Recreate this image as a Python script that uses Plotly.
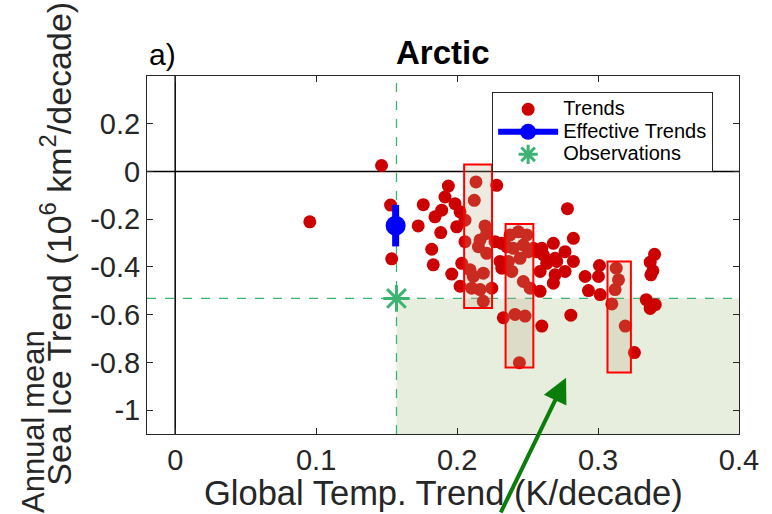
import plotly.graph_objects as go

# ---------------- data ----------------
trend_x = [0.0955, 0.1464, 0.1528, 0.1536,
           0.1938, 0.2134, 0.2281, 0.1914, 0.2122, 0.1760, 0.1985, 0.1891, 0.1843, 0.2021,
           0.2056, 0.1724, 0.1997, 0.2198, 0.1884, 0.2210, 0.2056, 0.2163, 0.2151, 0.1820,
           0.2269, 0.2317, 0.2210, 0.1831, 0.2033, 0.2092, 0.1962, 0.2186, 0.2115, 0.2305,
           0.2021, 0.2104, 0.2163, 0.2246, 0.2186,
           0.2376, 0.2435, 0.2494, 0.2399, 0.2470, 0.2364, 0.2447, 0.2506, 0.2388, 0.2565,
           0.2601, 0.2683, 0.2695, 0.2589, 0.2683, 0.2518, 0.2411, 0.2482, 0.2328, 0.2317,
           0.2442, 0.2601, 0.2589, 0.2470, 0.2352, 0.2541, 0.2612,
           0.2783, 0.2825, 0.2766, 0.2825, 0.2707, 0.2636, 0.2695, 0.2766, 0.2908, 0.3010,
           0.3003, 0.2932, 0.3015, 0.2807,
           0.3129, 0.3145, 0.3121, 0.3098, 0.3193, 0.3258,
           0.3401, 0.3370, 0.3389, 0.3375, 0.3342, 0.3406, 0.3370]
trend_y = [-0.211, 0.025, -0.141, -0.366,
           -0.061, -0.044, -0.058, -0.107, -0.121, -0.139, -0.135, -0.162, -0.190, -0.169,
           -0.204, -0.228, -0.232, -0.228, -0.256, -0.260, -0.294, -0.287, -0.315, -0.326,
           -0.294, -0.301, -0.343, -0.391, -0.385, -0.412, -0.430, -0.426, -0.440, -0.377,
           -0.481, -0.489, -0.495, -0.489, -0.544,
           -0.266, -0.253, -0.266, -0.322, -0.308, -0.377, -0.364, -0.336, -0.419, -0.336,
           -0.322, -0.301, -0.364, -0.419, -0.468, -0.489, -0.599, -0.606, -0.613, -0.405,
           -0.801, -0.648, -0.502, -0.461, -0.315, -0.322, -0.350,
           -0.156, -0.280, -0.336, -0.377, -0.377, -0.385, -0.433, -0.419, -0.440, -0.394,
           -0.440, -0.499, -0.516, -0.602,
           -0.405, -0.454, -0.495, -0.555, -0.648, -0.759,
           -0.347, -0.380, -0.416, -0.433, -0.537, -0.558, -0.574]

eff_x = [0.1564]
eff_y = [-0.227]
eff_err = [0.087]

obs_x = [0.157]
obs_y = [-0.532]

box_x0 = [0.2050, 0.2344, 0.3067]
box_x1 = [0.2248, 0.2541, 0.3233]
box_y0 = [-0.572, -0.821, -0.842]
box_y1 = [0.029, -0.220, -0.377]

x_ticks = [0, 0.1, 0.2, 0.3, 0.4]
x_ticktext = ["0", "0.1", "0.2", "0.3", "0.4"]
y_ticks = [-1, -0.8, -0.6, -0.4, -0.2, 0, 0.2]
y_ticktext = ["-1", "-0.8", "-0.6", "-0.4", "-0.2", "0", "0.2"]
x_range = [-0.02, 0.4]
y_range = [-1.1, 0.4]

# ---------------- style ----------------
FONT = "Liberation Sans, Arial, Helvetica, sans-serif"
AX = "#262626"
RED = "#cc0000"
BLUE = "#0000ff"
GREEN = "#3cb371"
SHADE = "#e7eede"


def legend_label(s):
    return "<span style='font-size:20px'>" + s + "</span>"


fig = go.Figure()

fig.add_trace(go.Scatter(
    x=trend_x, y=trend_y, mode="markers", name=legend_label("Trends"),
    marker=dict(color=RED, size=13, line=dict(width=0)),
))
fig.add_trace(go.Scatter(
    x=eff_x, y=eff_y, mode="lines+markers", name=legend_label("Effective Trends"),
    line=dict(color=BLUE, width=6),
    marker=dict(color=BLUE, size=20),
    error_y=dict(type="data", array=eff_err, color=BLUE, thickness=7, width=0),
))
fig.add_trace(go.Scatter(
    x=obs_x, y=obs_y, mode="markers", name=legend_label("Observations"),
    marker=dict(symbol="asterisk-open", size=22, color=GREEN,
                line=dict(color=GREEN, width=3)),
))

shapes = []
# shaded region
shapes.append(dict(type="rect", xref="x", yref="y", x0=obs_x[0], x1=x_range[1],
                   y0=y_range[0], y1=obs_y[0], fillcolor=SHADE, line=dict(width=0),
                   layer="below"))
# zero lines
shapes.append(dict(type="line", xref="x", yref="y", x0=x_range[0], x1=x_range[1], y0=0, y1=0,
                   line=dict(color="black", width=1.5), layer="below"))
shapes.append(dict(type="line", xref="x", yref="y", x0=0, x1=0, y0=y_range[0], y1=y_range[1],
                   line=dict(color="black", width=1.5), layer="below"))
# observation dashed lines
shapes.append(dict(type="line", xref="x", yref="y", x0=obs_x[0], x1=obs_x[0],
                   y0=y_range[0], y1=y_range[1],
                   line=dict(color=GREEN, width=1.3, dash="dash"), layer="below"))
shapes.append(dict(type="line", xref="x", yref="y", x0=x_range[0], x1=x_range[1],
                   y0=obs_y[0], y1=obs_y[0],
                   line=dict(color=GREEN, width=1.3, dash="dash"), layer="below"))
# red boxes
for a, b, c, d in zip(box_x0, box_x1, box_y0, box_y1):
    shapes.append(dict(type="rect", xref="x", yref="y", x0=a, x1=b, y0=c, y1=d,
                       fillcolor="rgba(190,170,130,0.25)",
                       line=dict(color="#ff0000", width=2), layer="above"))

annotations = [
    dict(text="<b>Arctic</b>", xref="paper", yref="paper", x=0.5, y=1.067,
         xanchor="center", yanchor="middle", showarrow=False,
         font=dict(family=FONT, size=33, color="black")),
    dict(text="a)", xref="paper", yref="paper", x=0.0, y=1.061,
         xanchor="left", yanchor="middle", showarrow=False,
         font=dict(family=FONT, size=30, color="black")),
    dict(text="Global Temp. Trend (K/decade)", xref="paper", yref="paper",
         x=0.5, y=-0.165, xanchor="center", yanchor="middle", showarrow=False,
         font=dict(family=FONT, size=34.5, color=AX)),
    dict(text="Sea Ice Trend (10<sup>6</sup> km<sup>2</sup>/decade)", xref="paper", yref="paper",
         x=-0.1537, y=-0.150, xanchor="center", yanchor="bottom", textangle=-90,
         showarrow=False, font=dict(family=FONT, size=34, color=AX)),
    dict(text="Annual mean", xref="paper", yref="paper",
         x=-0.1926, y=-0.225, xanchor="center", yanchor="bottom", textangle=-90,
         showarrow=False, font=dict(family=FONT, size=31, color=AX)),
    dict(text="", xref="x", yref="y", x=0.2773, y=-0.864, ax=-66, ay=142,
         axref="pixel", ayref="pixel", showarrow=True, arrowhead=2, arrowsize=1.25,
         arrowwidth=4, arrowcolor="#0b7d0b"),
]

fig.update_layout(
    width=772, height=514,
    margin=dict(l=147, r=33, t=76, b=80),
    paper_bgcolor="white", plot_bgcolor="white",
    showlegend=True,
    legend=dict(x=0.583, y=0.955, xanchor="left", yanchor="top",
                bgcolor="white", bordercolor=AX, borderwidth=1,
                font=dict(family=FONT, size=15, color="black"),
                itemwidth=60),
    shapes=shapes,
    annotations=annotations,
    font=dict(family=FONT, color=AX),
)
fig.update_xaxes(range=x_range, tickvals=x_ticks, ticktext=x_ticktext,
                 showgrid=False, zeroline=False, showline=True, linecolor=AX, linewidth=1,
                 mirror="ticks", ticks="inside", ticklen=6, tickcolor=AX,
                 tickfont=dict(family=FONT, size=29, color=AX))
fig.update_yaxes(range=y_range, tickvals=y_ticks, ticktext=y_ticktext,
                 showgrid=False, zeroline=False, showline=True, linecolor=AX, linewidth=1,
                 mirror="ticks", ticks="inside", ticklen=6, tickcolor=AX,
                 tickfont=dict(family=FONT, size=29, color=AX))

fig.write_html("out.html")
